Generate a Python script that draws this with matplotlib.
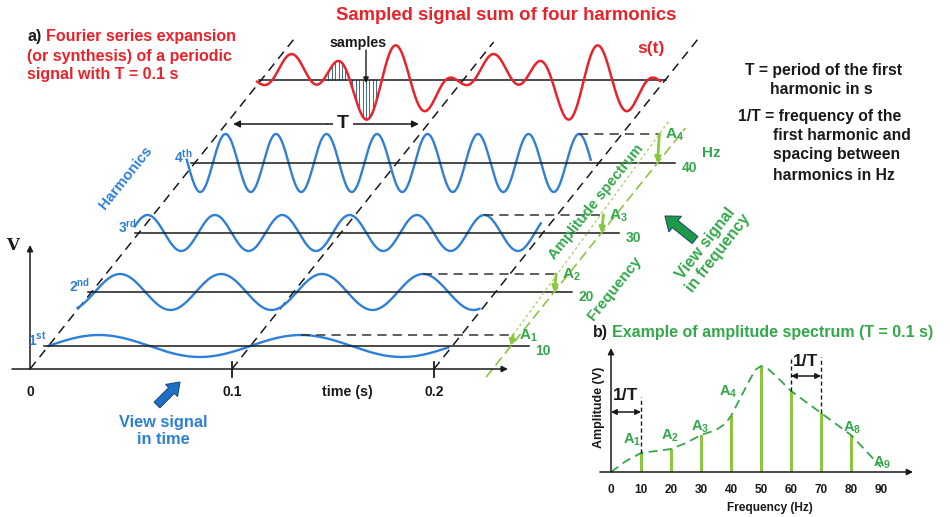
import numpy as np
import matplotlib
matplotlib.use("Agg")
import matplotlib.pyplot as plt
from matplotlib.patches import FancyArrow
from matplotlib.transforms import Affine2D

plt.rcParams["font.family"] = ["Liberation Sans", "DejaVu Sans"]
plt.rcParams["font.weight"] = "bold"
plt.rcParams["mathtext.fontset"] = "custom"
plt.rcParams["mathtext.rm"] = "Liberation Sans:bold"
plt.rcParams["mathtext.it"] = "Liberation Sans:bold"
plt.rcParams["mathtext.bf"] = "Liberation Sans:bold"

# ---- data -------------------------------------------------------------
PERIOD = 0.1                                   # s, period of the first harmonic
harm_order = [1, 2, 3, 4]
harm_label = ["1$^{st}$", "2$^{nd}$", "3$^{rd}$", "4$^{th}$"]
harm_amp = [1.1, 1.8, 1.8, 2.9]                # V
harm_phase = [0.0, -0.2, 0.75, -2.25]          # rad
harm_t0 = [0.0, -0.007, -0.002, -0.004]        # s, drawn part of each harmonic
harm_t1 = [0.198, 0.192, 0.199, 0.196]

sum_amp = [0.81, 1.19, 1.36, 1.84]             # V, components of s(t)
sum_phase = [0.35, -0.67, 1.26, -2.39]         # rad
sum_t0, sum_t1 = -0.002, 0.1975
sample_t = np.arange(0.0332, 0.0580, 0.0017)   # sampling instants shown
time_ticks = [0.0, 0.1, 0.2]

spec_freq = [10, 20, 30, 40, 50, 60, 70, 80]
spec_amp = [1.9, 2.3, 3.7, 5.6, 10.6, 8.1, 5.9, 3.7]
env_freq = [0, 5, 10, 20, 25, 30, 35, 38, 40, 45, 48, 50, 52, 55, 60, 70, 80, 90]
env_amp = [0, 1.1, 1.9, 2.3, 2.9, 3.7, 4.2, 4.8, 5.6, 8.5, 10.2, 10.6, 10.4, 9.6, 8.1, 5.9, 3.7, 0.5]
freq_ticks = [0, 10, 20, 30, 40, 50, 60, 70, 80, 90]

# ---- layout / style ---------------------------------------------------
X0, Y0 = 30, 369            # pixel position of t=0 on the time axis
PX_PER_S, PX_PER_V = 2020, 10
SKEW = 0.8                  # x shift per pixel of depth
layer_depth = [23, 77, 136, 206]
SUM_DEPTH = 289
T_FREQ = 0.229              # where the frequency axis crosses each layer (s)
BASE_END = T_FREQ + 0.0089

RED = "#e8232b"
BLUE = "#2f7fd8"
GREEN = "#33a84a"
LGREEN = "#8cc63f"
INK = "#1a1a1a"
DASH = (0, (6, 4))

fig = plt.figure(figsize=(9.5, 5.17), dpi=100)
ax = fig.add_axes([0, 0, 1, 1])
ax.set_xlim(0, 950)
ax.set_ylim(517, 0)
ax.axis("off")


def layer(d):
    """(t [s], v [V]) -> pixels for the layer lifted by depth d."""
    return Affine2D().scale(PX_PER_S, -PX_PER_V).translate(X0 + SKEW * d, Y0 - d) + ax.transData


depth_tf = Affine2D(np.array([[PX_PER_S, SKEW, X0], [0, -1, Y0], [0, 0, 1.0]])) + ax.transData


def arrow(p0, p1, tf, color=INK, lw=1.1, style="-|>", ms=9):
    ax.annotate("", xy=p1, xytext=p0, xycoords=tf,
                arrowprops=dict(arrowstyle=style, lw=lw, color=color, mutation_scale=ms,
                                shrinkA=0, shrinkB=0))


# time axis, ticks and V axis
base = layer(0)
arrow((-0.0089, 0), (0.2366, 0), base)
arrow((0, 0), (0, 12.4), base)
for t in time_ticks:
    if t > 0:
        ax.plot([t, t], [-0.8, 0.7], transform=base, color=INK, lw=1.3)
    ax.text(t, -2.3, f"{t:g}", transform=base, ha="center", va="center", fontsize=10, color=INK)
ax.text(0.157, -2.3, "time (s)", transform=base, ha="center", va="center", fontsize=10.3, color=INK)
ax.text(13, 245, "V", ha="center", va="center", fontsize=12, color=INK, family="DejaVu Serif")

# dashed period guides
for t, top in zip(time_ticks, [332, 327, 333]):
    ax.plot([t, t], [0, top], transform=depth_tf, color=INK, lw=1.1, ls=DASH)

# harmonics
tops = []
for k, lab, A, ph, t0, t1, d in zip(harm_order, harm_label, harm_amp, harm_phase,
                                    harm_t0, harm_t1, layer_depth):
    tf = layer(d)
    t = np.linspace(t0, t1, 600)
    ax.plot(t, A * np.sin(2 * np.pi * k * t / PERIOD + ph), transform=tf, color=BLUE, lw=1.7)
    ax.plot([-0.002, BASE_END], [0, 0], transform=tf, color=INK, lw=1.1)
    w = 2 * np.pi * k / PERIOD
    n = np.floor((w * t1 + ph - np.pi / 2) / (2 * np.pi))
    tp = (np.pi / 2 - ph + 2 * np.pi * n) / w
    ax.plot([tp, T_FREQ + 0.001], [A, A], transform=tf, color="#333333", lw=1.1, ls=DASH)
    arrow((T_FREQ + 0.001, A), (T_FREQ, 0), tf, color=LGREEN, lw=2.0, ms=8)
    tops.append(tf.transform((T_FREQ + 0.001, A)))
    ax.text(T_FREQ + 0.004, A - 0.1, f"A$_{k}$", transform=tf, ha="left", va="center",
            fontsize=11, color=GREEN)
    ax.text(BASE_END + 0.003, -0.5, f"{10 * k}", transform=tf, ha="left", va="center",
            fontsize=10, color=GREEN)
    ax.text(-0.001, 0.6, lab, transform=tf, ha="right", va="center", fontsize=10, color=BLUE)

# frequency axis and amplitude-spectrum guide
ax.plot([T_FREQ, T_FREQ], [-8, 241], transform=depth_tf, color=LGREEN, lw=1.2, ls=(0, (6, 3)))
tops = ax.transData.inverted().transform(np.array(tops))
p0, p1 = tops[0], tops[-1] + 0.07 * (tops[-1] - tops[0])
ax.plot([p0[0], p1[0]], [p0[1], p1[1]], color="#a9d46f", lw=1.0, ls=(0, (2, 2)))

# sampled sum of harmonics
tf = layer(SUM_DEPTH)


def s_of_t(t):
    return sum(A * np.sin(2 * np.pi * k * t / PERIOD + ph)
               for k, A, ph in zip(harm_order, sum_amp, sum_phase))


t = np.linspace(sum_t0, sum_t1, 800)
for ts in sample_t:
    ax.plot([ts, ts], [0, s_of_t(ts)], transform=tf, color="#3d6a92", lw=0.7)
ax.plot([-0.001, 0.2005], [0, 0], transform=tf, color=INK, lw=1.1)
ax.plot(t, s_of_t(t), transform=tf, color=RED, lw=1.8)

# period marker
tf_T = layer(245)
arrow((0.05, 0), (0.0035, 0), tf_T, ms=10)
arrow((0.05, 0), (0.0955, 0), tf_T, ms=10)
ax.text(343, 124, "T", ha="center", va="center", fontsize=14, color=INK,
        bbox=dict(fc="white", ec="none", pad=3))

ax.text(358, 43, "samples", ha="center", va="center", fontsize=10.3, color=INK)
ax.annotate("", xy=(366, 83), xytext=(366, 50),
            arrowprops=dict(arrowstyle="-|>", lw=1.0, color=INK, mutation_scale=8,
                            shrinkA=0, shrinkB=0))

# titles and notes
ax.text(506, 15, "Sampled signal sum of four harmonics", ha="center", va="center",
        fontsize=13.3, color=RED)
ax.text(651, 49, "s(t)", ha="center", va="center", fontsize=12.5, color=RED)
ax.text(27, 36, "a)", ha="left", va="center", fontsize=11.5, color=INK)
ax.text(46, 36, "Fourier series expansion", ha="left", va="center", fontsize=11.5, color=RED)
ax.text(27, 56, "(or synthesis) of a periodic", ha="left", va="center", fontsize=11.5, color=RED)
ax.text(27, 75, "signal with T = 0.1 s", ha="left", va="center", fontsize=11.5, color=RED)

for txt, x, y in [("T = period of the first", 745, 70), ("harmonic in s", 770, 90),
                  ("1/T = frequency of the", 738, 116), ("first harmonic and", 773, 136),
                  ("spacing between", 773, 155), ("harmonics in Hz", 773, 175)]:
    ax.text(x, y, txt, ha="left", va="center", fontsize=11.3, color=INK)

ang = np.degrees(np.arctan(1 / SKEW))
ax.text(126, 178, "Harmonics", rotation=ang, rotation_mode="anchor", ha="center", va="center",
        fontsize=10.6, color=BLUE)
ax.text(596, 202, "Amplitude spectrum", rotation=ang, rotation_mode="anchor", ha="center",
        va="center", fontsize=10.7, color=GREEN)
ax.text(615, 288, "Frequency", rotation=ang, rotation_mode="anchor", ha="center", va="center",
        fontsize=11, color=GREEN)
ax.text(702, 153, "Hz", ha="left", va="center", fontsize=11, color=GREEN)
ax.text(712, 248, "View signal\nin frequency", rotation=52, rotation_mode="anchor",
        ha="center", va="center", fontsize=11.4, color=GREEN, linespacing=1.1)
ax.text(163, 431, "View signal\nin time", ha="center", va="center", fontsize=11.8,
        color=BLUE, linespacing=1.15)

ax.add_patch(FancyArrow(157, 405, 23, -23, width=8, head_width=17, head_length=12,
                        length_includes_head=True, fc="#1f6fc5", ec="#184f86", lw=0.8))
ax.add_patch(FancyArrow(695, 240, -30, -24, width=9, head_width=20, head_length=13,
                        length_includes_head=True, fc="#1e9a46", ec="#1b4d6b", lw=0.8))

# ---- b) amplitude spectrum --------------------------------------------
axb = fig.add_axes([611 / 950, (517 - 472) / 517, 300 / 950, 120 / 517])
axb.set_xlim(0, 100)
axb.set_ylim(0, 12)
axb.axis("off")
axb.annotate("", xy=(100.7, 0), xytext=(-3.7, 0),
             arrowprops=dict(arrowstyle="-|>", lw=1.1, color=INK, mutation_scale=9,
                             shrinkA=0, shrinkB=0), annotation_clip=False)
axb.annotate("", xy=(0, 12.4), xytext=(0, 0),
             arrowprops=dict(arrowstyle="-|>", lw=1.1, color=INK, mutation_scale=9,
                             shrinkA=0, shrinkB=0), annotation_clip=False)
axb.bar(spec_freq, spec_amp, width=1.0, color=LGREEN)
axb.plot(env_freq, env_amp, color=GREEN, lw=1.3, ls=(0, (5, 3)), clip_on=False)
for f in freq_ticks:
    axb.text(f, -1.8, f"{f}", ha="center", va="center", fontsize=8.5, color=INK)
axb.text(53, -3.6, "Frequency (Hz)", ha="center", va="center", fontsize=8.6, color=INK)
axb.text(-4, 6.5, "Amplitude (V)", rotation=90, ha="center", va="center", fontsize=9, color=INK)

for fa, fb, y, ytop, ly in [(0, 10, 6.0, 7.5, 7.6), (60, 70, 9.6, 11.5, 11.1)]:
    axb.annotate("", xy=(fb, y), xytext=(fa, y),
                 arrowprops=dict(arrowstyle="<|-|>", lw=1.1, color=INK, mutation_scale=8,
                                 shrinkA=0, shrinkB=0), annotation_clip=False)
    for f in (fa, fb):
        if f > 0:
            lo = spec_amp[spec_freq.index(f)]
            axb.plot([f, f], [lo, ytop], color=INK, lw=1.0, ls=(0, (3, 2)), clip_on=False)
    axb.text((fa + fb) / 2, ly, "1/T", ha="center", va="center", fontsize=12.5, color=INK)

for lab, f, y in [("A$_1$", 7, 3.2), ("A$_2$", 19.7, 3.6), ("A$_3$", 29.7, 4.5),
                  ("A$_4$", 39, 8.0), ("A$_8$", 80.3, 4.4), ("A$_9$", 90.3, 0.9)]:
    axb.text(f, y, lab, ha="center", va="center", fontsize=10.5, color=GREEN)

ax.text(593, 333, "b)", ha="left", va="center", fontsize=11.5, color=INK)
ax.text(612, 333, "Example of amplitude spectrum (T = 0.1 s)", ha="left", va="center",
        fontsize=11.5, color=GREEN)

fig.savefig("out.png", dpi=100)
